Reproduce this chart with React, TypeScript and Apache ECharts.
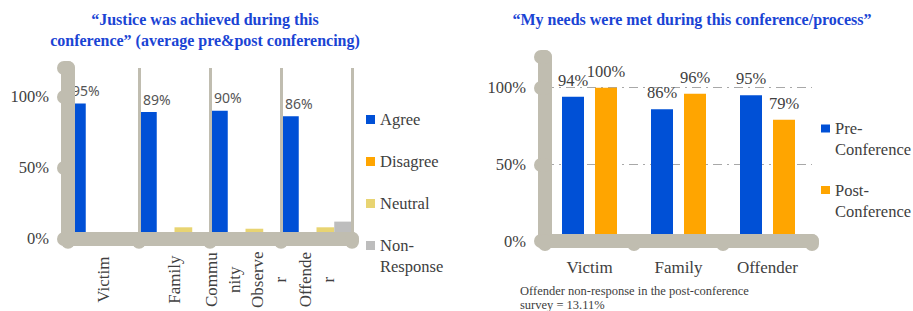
import React, { useEffect, useRef } from 'react';
import * as echarts from 'echarts';

// ---- Data: "Justice was achieved" chart ----
const justiceCategories = ['Victim', 'Family', 'Community Observer', 'Offender'];
const justiceTickLabels = ['Victim', 'Family', 'Commu\nnity\nObserve\nr', 'Offende\nr'];
const agree = [95, 89, 90, 86];
const disagree = [0, 0, 0, 0];
const neutral = [0, 8, 7, 8];
const nonResponse = [0, 0, 0, 12];

// ---- Data: "My needs were met" chart ----
const needsCategories = ['Victim', 'Family', 'Offender'];
const preConference = [94, 86, 95];
const postConference = [100, 96, 79];

const yTickLabels = [0, 50, 100];

const titleLeft = '“Justice was achieved during this\nconference” (average pre&post conferencing)';
const titleRight = '“My needs were met during this conference/process”';
const footnote = 'Offender non-response in the post-conference\nsurvey = 13.11%';

const SERIF = 'Liberation Serif';
const AXIS_GRAY = '#c0bdb0';
const TEXT = '#404040';
const BLUE = '#0050d6';
const ORANGE = '#ffa500';
const YELLOW = '#e8d472';
const GRAY = '#bdbdbd';
const TITLE_BLUE = '#1a44d4';

const axisLineStyle = { color: AXIS_GRAY, width: 14, cap: 'round' as const };
const serifText = { fontFamily: SERIF, fontWeight: 400, color: TEXT };

function yLabel(v: number) {
  return yTickLabels.includes(v) ? `${v}%` : '';
}

export default function App() {
  const ref = useRef<HTMLDivElement>(null);

  useEffect(() => {
    if (!ref.current) return;
    const chart = echarts.init(ref.current, undefined, { renderer: 'svg' });
    const option: any = {
      animation: false,
      textStyle: { ...serifText },
      title: [
        {
          text: titleLeft, left: 205, top: 9, textAlign: 'center', padding: 0,
          textStyle: { fontFamily: SERIF, fontWeight: 'bold', fontSize: 16, lineHeight: 21, color: TITLE_BLUE },
        },
        {
          text: titleRight, left: 692, top: 9, textAlign: 'center', padding: 0,
          textStyle: { fontFamily: SERIF, fontWeight: 'bold', fontSize: 16, lineHeight: 21, color: TITLE_BLUE },
        },
        {
          text: footnote, left: 520, top: 284, padding: 0,
          textStyle: { ...serifText, fontSize: 12.5, lineHeight: 14 },
        },
      ],
      legend: [
        {
          data: ['Agree', 'Disagree', 'Neutral'], orient: 'vertical', left: 366, top: 109, padding: 0,
          itemWidth: 9, itemHeight: 9, itemGap: 21, icon: 'rect',
          textStyle: { ...serifText, fontSize: 16.5, lineHeight: 21 },
        },
        {
          data: ['Non-Response'], orient: 'vertical', left: 366, top: 214, padding: 0,
          itemWidth: 9, itemHeight: 9, icon: 'rect',
          formatter: (n: string) => '\n' + n.replace('-', '-\n'),
          textStyle: { ...serifText, fontSize: 16.5, lineHeight: 21 },
        },
        {
          data: ['Pre-Conference', 'Post-Conference'], orient: 'vertical', left: 821, top: 97, padding: 0,
          itemWidth: 9, itemHeight: 8, itemGap: -1.5, icon: 'rect',
          formatter: (n: string) => '\n' + n.replace('-', '-\n'),
          textStyle: { ...serifText, fontSize: 16.5, lineHeight: 21 },
        },
      ],
      grid: [
        { left: 68, top: 68, width: 284, height: 175 },
        { left: 545, top: 57, width: 267, height: 184 },
      ],
      xAxis: [
        {
          type: 'category', gridIndex: 0, data: justiceCategories, z: 10,
          axisLine: { lineStyle: axisLineStyle },
          axisTick: { show: true, length: 3, lineStyle: axisLineStyle },
          splitLine: { show: true, lineStyle: { color: AXIS_GRAY, width: 3 } },
          axisLabel: {
            ...serifText, interval: 0, rotate: 90, align: 'center', margin: 41,
            fontSize: 17, lineHeight: 23,
            formatter: (_v: string, i: number) => justiceTickLabels[i],
          },
        },
        {
          type: 'category', gridIndex: 1, data: needsCategories, z: 10,
          axisLine: { lineStyle: axisLineStyle },
          axisTick: { show: true, length: 3, lineStyle: axisLineStyle },
          splitLine: { show: false },
          axisLabel: { ...serifText, interval: 0, margin: 18, fontSize: 17 },
        },
      ],
      yAxis: [
        {
          type: 'value', gridIndex: 0, min: 0, max: 120, interval: 50, z: 10,
          axisLine: { show: true, lineStyle: axisLineStyle },
          axisTick: { show: true, length: 4, lineStyle: axisLineStyle },
          splitLine: { show: false },
          axisLabel: { ...serifText, margin: 19, fontSize: 16.5, formatter: yLabel },
        },
        {
          type: 'value', gridIndex: 1, min: 0, max: 120, interval: 50,
          axisLine: { show: true, lineStyle: axisLineStyle },
          axisTick: { show: true, length: 4, lineStyle: axisLineStyle },
          splitLine: {
            show: true, showMinLine: false, showMaxLine: false,
            lineStyle: { color: '#a8a8a8', width: 1.2, type: [9, 5, 2, 5] },
          },
          axisLabel: { ...serifText, margin: 19, fontSize: 16.5, formatter: yLabel },
        },
      ],
      series: [
        {
          name: 'Agree', type: 'bar', xAxisIndex: 0, yAxisIndex: 0, data: agree,
          barGap: '0%', barCategoryGap: '0%', itemStyle: { color: BLUE },
          label: {
            show: true, position: 'top', distance: 6, offset: [9, 0], formatter: '{c}%',
            fontFamily: 'Noto Sans', fontWeight: 400, fontSize: 14, color: '#555555',
          },
        },
        { name: 'Disagree', type: 'bar', xAxisIndex: 0, yAxisIndex: 0, data: disagree, barGap: '0%', barCategoryGap: '0%', itemStyle: { color: ORANGE } },
        { name: 'Neutral', type: 'bar', xAxisIndex: 0, yAxisIndex: 0, data: neutral, barGap: '0%', barCategoryGap: '0%', itemStyle: { color: YELLOW } },
        { name: 'Non-Response', type: 'bar', xAxisIndex: 0, yAxisIndex: 0, data: nonResponse, barGap: '0%', barCategoryGap: '0%', itemStyle: { color: GRAY } },
        {
          name: 'Pre-Conference', type: 'bar', xAxisIndex: 1, yAxisIndex: 1, data: preConference,
          barWidth: 22, barGap: '50%', itemStyle: { color: BLUE },
          label: { show: true, position: 'top', distance: 8, formatter: '{c}%', ...serifText, fontSize: 16.5 },
        },
        {
          name: 'Post-Conference', type: 'bar', xAxisIndex: 1, yAxisIndex: 1, data: postConference,
          barWidth: 22, barGap: '50%', itemStyle: { color: ORANGE },
          label: { show: true, position: 'top', distance: 8, formatter: '{c}%', ...serifText, fontSize: 16.5 },
        },
      ],
    };
    chart.setOption(option);
    return () => chart.dispose();
  }, []);

  return (
    <div
      ref={ref}
      style={{ position: 'absolute', left: 0, top: 0, width: 913, height: 311, background: '#ffffff' }}
    />
  );
}
